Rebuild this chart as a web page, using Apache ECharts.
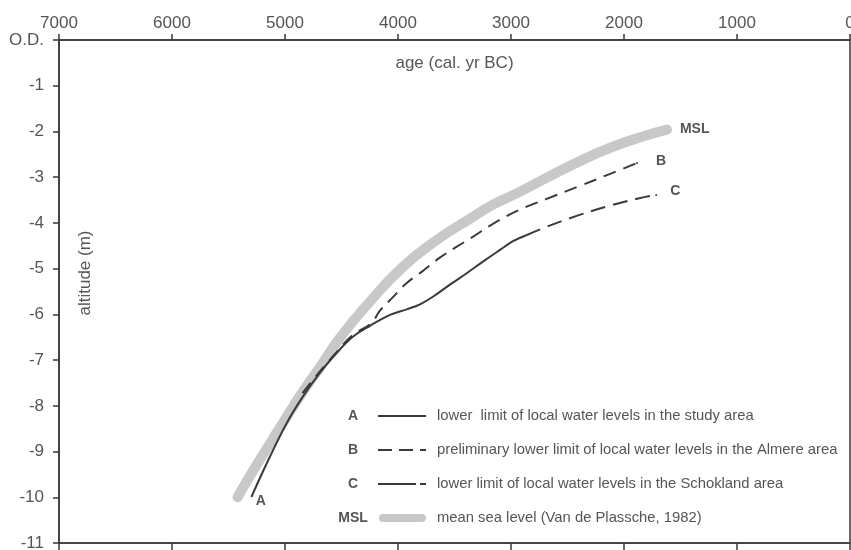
<!DOCTYPE html>
<html>
<head>
<meta charset="utf-8">
<script src="https://cdn.jsdelivr.net/npm/echarts@6/dist/echarts.min.js"></script>
<style>
    html, body { margin: 0; padding: 0; background: #fff; overflow: hidden; }
    #chart { width: 851px; height: 550px; }
</style>
</head>
<body>
<div id="chart"></div>
<script>
    // age in cal. yr BC, altitude in m relative to O.D.
    var mslAge = [5420, 5290, 5140, 4990, 4845, 4695, 4510, 4255, 3960, 3660, 3370, 3160, 2955, 2690, 2400, 2105, 1805, 1620];
    var mslAlt = [-10.0, -9.45, -8.85, -8.26, -7.70, -7.17, -6.50, -5.74, -4.97, -4.38, -3.92, -3.60, -3.36, -3.02, -2.66, -2.34, -2.09, -1.96];

    var aAge = [5295, 5135, 4985, 4845, 4695, 4545, 4405, 4248, 4071, 3923, 3805, 3688, 3540, 3392, 3245, 3097, 2982, 2865];
    var aAlt = [-9.98, -9.12, -8.38, -7.81, -7.29, -6.85, -6.50, -6.25, -6.01, -5.89, -5.78, -5.61, -5.35, -5.10, -4.84, -4.59, -4.40, -4.27];

    var bAge = [4845, 4695, 4545, 4405, 4235, 4160, 4055, 3925, 3775, 3630, 3480, 3335, 3160, 2930, 2690, 2400, 2105, 1885];
    var bAlt = [-7.72, -7.26, -6.83, -6.46, -6.19, -5.92, -5.65, -5.32, -5.04, -4.76, -4.52, -4.30, -4.02, -3.72, -3.48, -3.20, -2.91, -2.69];

    var cAge = [2865, 2690, 2400, 2105, 1865, 1715];
    var cAlt = [-4.27, -4.09, -3.83, -3.61, -3.46, -3.39];

    var legendKeys = ['A', 'B', 'C', 'MSL'];
    var legendTexts = [
        'lower  limit of local water levels in the study area',
        'preliminary lower limit of local water levels in the Almere area',
        'lower limit of local water levels in the Schokland area',
        'mean sea level (Van de Plassche, 1982)'
    ];

    var FONT = 'Liberation Sans, Arial, sans-serif';
    var INK = '#3a3a3a';
    var TXT = '#555';
    var GREY = '#c8c8c8';

    function zip(xs, ys) {
        var out = [];
        for (var i = 0; i < xs.length; i++) out.push([xs[i], ys[i]]);
        return out;
    }

    // put a bold tag next to one point of a curve
    function tag(data, idx, txt, dx, dy, color) {
        data[idx] = {
            value: data[idx],
            symbol: 'circle', symbolSize: 2,
            itemStyle: {color: color},
            label: {show: true, formatter: txt, position: 'right', distance: dx, offset: [0, dy],
                fontFamily: FONT, fontSize: 14, fontWeight: 'bold', color: TXT}
        };
        return data;
    }

    var mslData = tag(zip(mslAge, mslAlt), mslAge.length - 1, 'MSL', 12, 0, GREY);
    var aData = tag(zip(aAge, aAlt), 0, 'A', 3, 5, INK);
    var bData = tag(zip(bAge, bAlt), bAge.length - 1, 'B', 18, -2, INK);
    var cData = tag(zip(cAge, cAlt), cAge.length - 1, 'C', 13, -4, INK);

    // hand drawn legend
    var graphics = [];
    var rowY = [416, 450, 484, 518];
    var lineStyles = [
        {stroke: INK, lineWidth: 2},
        {stroke: INK, lineWidth: 2, lineDash: [14, 7]},
        {stroke: INK, lineWidth: 2, lineDash: [38, 4, 7, 100]},
        {stroke: GREY, lineWidth: 8, lineCap: 'round'}
    ];
    for (var i = 0; i < legendKeys.length; i++) {
        graphics.push({
            type: 'text', x: 353, y: rowY[i],
            style: {text: legendKeys[i], fill: TXT, font: 'bold 14px ' + FONT, textAlign: 'center', textVerticalAlign: 'middle'}
        });
        graphics.push({
            type: 'line',
            shape: {x1: i === 3 ? 383 : 378, y1: rowY[i], x2: i === 3 ? 422 : 426, y2: rowY[i]},
            style: lineStyles[i]
        });
        graphics.push({
            type: 'text', x: 437, y: rowY[i],
            style: {text: legendTexts[i], fill: TXT, font: '14.8px ' + FONT, textVerticalAlign: 'middle'}
        });
    }
    graphics.push({
        type: 'text', x: 85, y: 273, rotation: Math.PI / 2,
        style: {text: 'altitude (m)', fill: TXT, font: '17px ' + FONT, textAlign: 'center', textVerticalAlign: 'middle'}
    });

    var chart = echarts.init(document.getElementById('chart'));
    chart.setOption({
        animation: false,
        backgroundColor: '#fff',
        grid: {left: 59, right: 1, top: 40, bottom: 7, containLabel: false, outerBoundsMode: 'none',
            show: true, borderColor: INK, borderWidth: 1.5},
        xAxis: [{
            type: 'value', position: 'top', inverse: true,
            min: 0, max: 7000, interval: 1000,
            name: 'age (cal. yr BC)', nameLocation: 'middle', nameGap: -32,
            nameTextStyle: {fontFamily: FONT, fontSize: 17, color: TXT},
            axisLine: {onZero: false, lineStyle: {color: INK, width: 1.5}},
            axisTick: {length: 6, lineStyle: {color: INK, width: 1.5}},
            axisLabel: {fontFamily: FONT, fontSize: 17, color: TXT, margin: 8,
                formatter: function (v) { return String(v); }},
            splitLine: {show: false}
        }, {
            type: 'value', position: 'bottom', inverse: true,
            min: 0, max: 7000, interval: 1000,
            axisLine: {onZero: false, lineStyle: {color: INK, width: 1.5}},
            axisTick: {length: 8, lineStyle: {color: INK, width: 1.5}},
            axisLabel: {show: false},
            splitLine: {show: false}
        }],
        yAxis: {
            type: 'value', min: -11, max: 0, interval: 1,
            axisLine: {show: true, onZero: false, lineStyle: {color: INK, width: 1.5}},
            axisTick: {show: true, length: 6, lineStyle: {color: INK, width: 1.5}},
            axisLabel: {
                fontFamily: FONT, fontSize: 17, color: TXT, margin: 15,
                formatter: function (v) { return v === 0 ? 'O.D.' : String(v); }
            },
            splitLine: {show: false}
        },
        graphic: graphics,
        series: [{
            name: 'MSL', type: 'line', data: mslData, smooth: 0.5,
            symbol: 'none', z: 1,
            lineStyle: {color: GREY, width: 10, cap: 'round'}
        }, {
            name: 'A', type: 'line', data: aData, smooth: 0.4,
            symbol: 'none', z: 3,
            lineStyle: {color: INK, width: 2}
        }, {
            name: 'B', type: 'line', data: bData, smooth: 0.4,
            symbol: 'none', z: 2,
            lineStyle: {color: INK, width: 2, type: [13, 8]}
        }, {
            name: 'C', type: 'line', data: cData, smooth: 0.4,
            symbol: 'none', z: 2,
            lineStyle: {color: INK, width: 2, type: [15, 8]}
        }]
    });
</script>
</body>
</html>
